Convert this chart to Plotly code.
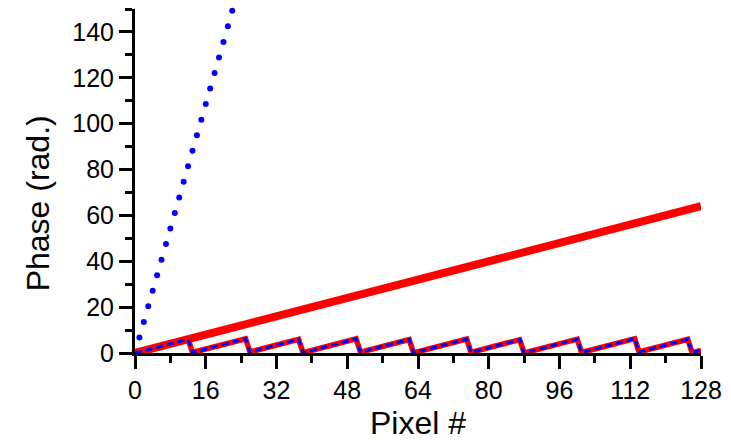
import plotly.graph_objects as go

# Blue dotted: aliased (unwrapped with 2*pi jumps) phase, one dot per pixel
blue_x = [1, 2, 3, 4, 5, 6, 7, 8, 9, 10, 11, 12, 13, 14, 15, 16, 17, 18, 19, 20, 21, 22]
blue_y = [6.78, 13.57, 20.35, 27.13, 33.92, 40.70, 47.48, 54.27, 61.05, 67.83, 74.62,
          81.40, 88.18, 94.97, 101.75, 108.53, 115.32, 122.10, 128.88, 135.66, 142.45, 149.23]

# Red thick line: unwrapped phase
red_x = [0, 128]
red_y = [0, 64]

# Sawtooth (wrapped phase) vertices
saw_x = [0, 12, 13, 25, 26, 37, 38, 50, 51, 62, 63, 75, 76, 87, 88, 100, 101,
         113, 114, 125, 126, 128]
saw_y = [0, 6.00, 0.22, 6.22, 0.43, 5.93, 0.15, 6.15, 0.37, 5.87, 0.08, 6.08, 0.30,
         5.80, 0.02, 6.02, 0.24, 6.24, 0.45, 5.95, 0.17, 1.17]

x_ticks = [0, 16, 32, 48, 64, 80, 96, 112, 128]
y_ticks = [0, 20, 40, 60, 80, 100, 120, 140]

FONT = "Arial, 'Liberation Sans', sans-serif"

fig = go.Figure()
fig.add_trace(go.Scatter(x=red_x, y=red_y, mode="lines",
                         line=dict(color="#FF0000", width=8), showlegend=False))
fig.add_trace(go.Scatter(x=saw_x, y=saw_y, mode="lines",
                         line=dict(color="#FF0000", width=5.5), showlegend=False))
fig.add_trace(go.Scatter(x=saw_x, y=saw_y, mode="lines",
                         line=dict(color="#0000FF", width=3, dash="7px,4px"),
                         showlegend=False))
fig.add_trace(go.Scatter(x=blue_x, y=blue_y, mode="markers",
                         marker=dict(color="#0000FF", size=6, line=dict(width=0)),
                         cliponaxis=False, showlegend=False))

axis_common = dict(
    showline=True, linecolor="black", linewidth=3,
    ticks="outside", ticklen=13, tickwidth=2.5, tickcolor="black",
    showgrid=False, zeroline=False,
    tickfont=dict(family=FONT, size=25, color="black"),
)

fig.update_xaxes(range=[0, 128], tickvals=x_ticks, ticktext=[str(v) for v in x_ticks],
                 minor=dict(ticks="outside", ticklen=7, tickwidth=2.5, tickcolor="black", dtick=8, tick0=0),
                 **axis_common)
fig.update_yaxes(range=[0, 150], tickvals=y_ticks, ticktext=[str(v) for v in y_ticks],
                 minor=dict(ticks="outside", ticklen=7, tickwidth=2.5, tickcolor="black", dtick=10, tick0=0),
                 **axis_common)

fig.update_layout(
    width=731, height=440,
    margin=dict(l=135, r=24, t=9, b=87),
    paper_bgcolor="white", plot_bgcolor="white",
    annotations=[
        dict(text="Pixel #", xref="paper", yref="paper", x=0.5, y=0, yshift=-70,
             xanchor="center", yanchor="middle", showarrow=False,
             font=dict(family=FONT, size=32, color="black")),
        dict(text="Phase (rad.)", xref="paper", yref="paper", x=0, xshift=-97,
             y=0.435, xanchor="center", yanchor="middle", textangle=-90, showarrow=False,
             font=dict(family=FONT, size=32, color="black")),
    ],
)

fig.write_html("out.html")
